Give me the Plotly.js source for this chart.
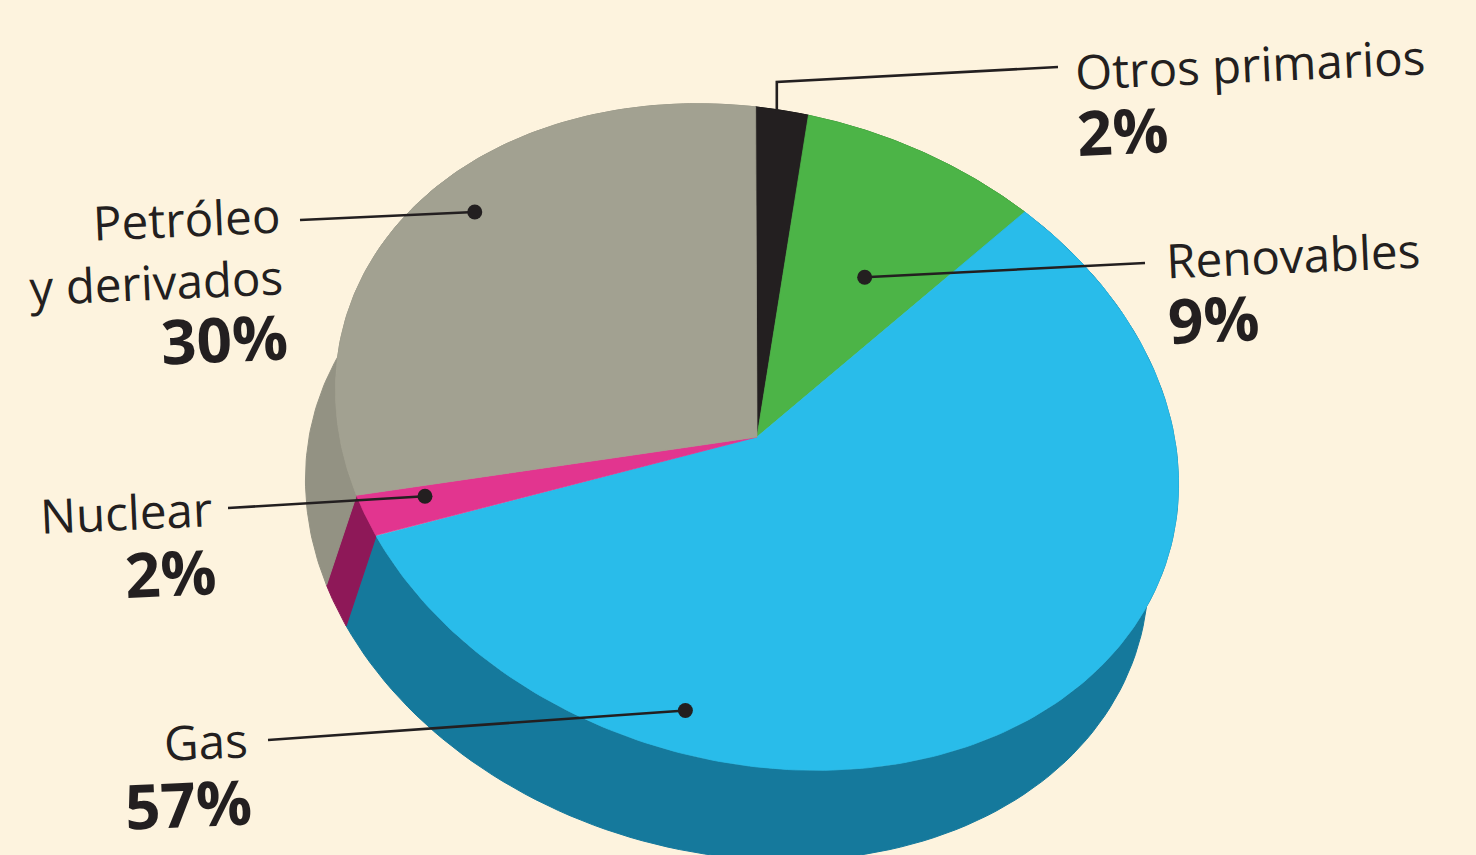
<!DOCTYPE html>
<html>
<head>
<meta charset="utf-8">
<script src="https://cdn.plot.ly/plotly-3.0.1.min.js"></script>
<style>
html,body{margin:0;padding:0;background:#FDF3DE;overflow:hidden;}
#chart{width:1476px;height:855px;}
</style>
</head>
<body>
<div id="chart"></div>
<script>
// ---- data (clockwise from top) ----
const categories = ["Otros primarios", "Renovables", "Gas", "Nuclear", "Petróleo<br>y derivados"];
const values = [2, 9, 57, 2, 30];
const pctLabels = ["2%", "9%", "57%", "2%", "30%"];
const topColors = ["#231F20", "#4CB447", "#29BCEA", "#E2358F", "#A2A191"];
const sideColors = ["#141213", "#2E7F2B", "#15799C", "#8E1858", "#939283"];

// ---- geometry of the tilted pie (pixel space) ----
const W = 1476, H = 855;
const cx = 757, cy = 437;      // apex
const a = 428, b = 325;        // ellipse semi-axes
const phi = 15.4 * Math.PI / 180;
const t0 = -102 * Math.PI / 180; // parametric start angle
const depth = [-30, 90];       // extrusion vector

function P(t, r) {
  r = (r === undefined) ? 1 : r;
  const u = a * r * Math.cos(t), v = b * r * Math.sin(t);
  return [cx + Math.cos(phi) * u - Math.sin(phi) * v,
          cy + Math.sin(phi) * u + Math.cos(phi) * v];
}
const total = values.reduce((s, v) => s + v, 0);
const bounds = [];
let acc = 0;
values.forEach(v => { const s = acc; acc += v; bounds.push([s / total, acc / total]); });
const ang = f => t0 + f * 2 * Math.PI;

const traces = [];
// side walls
bounds.forEach((bd, i) => {
  const n = 120, xs = [], ys = [];
  for (let k = 0; k <= n; k++) { const p = P(ang(bd[0] + (bd[1] - bd[0]) * k / n)); xs.push(p[0]); ys.push(p[1]); }
  for (let k = n; k >= 0; k--) { const p = P(ang(bd[0] + (bd[1] - bd[0]) * k / n)); xs.push(p[0] + depth[0]); ys.push(p[1] + depth[1]); }
  xs.push(xs[0]); ys.push(ys[0]);
  traces.push({type: 'scatter', mode: 'lines', x: xs, y: ys, fill: 'toself',
    fillcolor: sideColors[i], line: {color: sideColors[i], width: 1}, hoverinfo: 'skip', showlegend: false});
});
// top faces
bounds.forEach((bd, i) => {
  const n = 200, xs = [cx], ys = [cy];
  for (let k = 0; k <= n; k++) { const p = P(ang(bd[0] + (bd[1] - bd[0]) * k / n)); xs.push(p[0]); ys.push(p[1]); }
  xs.push(cx); ys.push(cy);
  traces.push({type: 'scatter', mode: 'lines', x: xs, y: ys, fill: 'toself',
    fillcolor: topColors[i], line: {color: topColors[i], width: 0.8}, hoverinfo: 'skip', showlegend: false,
    name: categories[i].replace('<br>', ' ')});
});

// ---- label layout: anchor inside slice (fraction along slice, radial fraction), leader end, text placement ----
const anchorFrac = [0.4, 0.59, 0.74, 0.7, 0.55];
const anchorR = [1.0, 0.58, 0.87, 0.84, 0.89];
const showDot = [false, true, true, true, true];
const lineEnd = [[1058, 67], [1145, 263], [268, 740], [228, 508], [300, 220]];
const elbowY = [82, null, null, null, null];
const nameX = [1072, 1163, 251, 215, 287];
const nameY = [63, 254, 740, 511, 250];
const pctY = [130, 318, 803, 572, 338];
const side = ['left', 'left', 'right', 'right', 'right'];

const dotX = [], dotY = [];
const annotations = [];
bounds.forEach((bd, i) => {
  const p = P(ang(bd[0] + (bd[1] - bd[0]) * anchorFrac[i]), anchorR[i]);
  if (showDot[i]) { dotX.push(p[0]); dotY.push(p[1]); }
  const lx = [p[0]], ly = [p[1]];
  if (elbowY[i] !== null) { lx.push(p[0]); ly.push(elbowY[i]); }
  lx.push(lineEnd[i][0]); ly.push(lineEnd[i][1]);
  traces.push({type: 'scatter', mode: 'lines', x: lx, y: ly,
    line: {color: '#231F20', width: 2.6}, hoverinfo: 'skip', showlegend: false});
  annotations.push({x: nameX[i], y: nameY[i], xref: 'x', yref: 'y', text: categories[i],
    showarrow: false, xanchor: side[i], yanchor: 'middle', align: side[i], textangle: -2.5,
    font: {family: 'Open Sans', size: 47.5, color: '#231F20'}});
  annotations.push({x: nameX[i] + (side[i] === 'left' ? 1 : 5), y: pctY[i], xref: 'x', yref: 'y',
    text: '<b>' + pctLabels[i] + '</b>',
    showarrow: false, xanchor: side[i], yanchor: 'middle', textangle: -2.5,
    font: {family: 'Open Sans', size: 62, color: '#231F20'}});
});
traces.push({type: 'scatter', mode: 'markers', x: dotX, y: dotY,
  marker: {color: '#231F20', size: 15}, hoverinfo: 'skip', showlegend: false});

const layout = {
  width: W, height: H,
  margin: {l: 0, r: 0, t: 0, b: 0},
  paper_bgcolor: '#FDF3DE', plot_bgcolor: '#FDF3DE',
  xaxis: {range: [0, W], visible: false, fixedrange: true},
  yaxis: {range: [H, 0], visible: false, fixedrange: true},
  showlegend: false,
  annotations: annotations
};
Plotly.newPlot('chart', traces, layout, {displayModeBar: false, staticPlot: true});
</script>
</body>
</html>
